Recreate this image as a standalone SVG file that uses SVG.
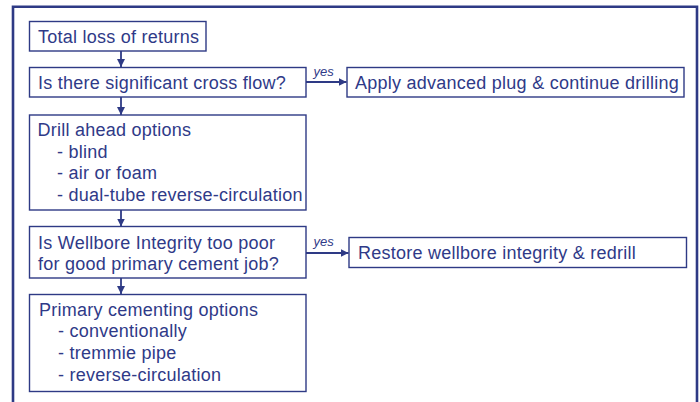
<svg xmlns="http://www.w3.org/2000/svg" width="700" height="402" viewBox="0 0 700 402">
<defs>
<style>
.box{fill:#fff;stroke:#2e3a85;stroke-width:1.4}
.t{font-family:"Liberation Sans",Arial,sans-serif;font-size:18px;letter-spacing:0.25px;fill:#2f3a88}
.y{font-family:"Liberation Sans",Arial,sans-serif;font-size:13px;font-style:italic;fill:#2f3a88}
.c{stroke:#2e3a85;stroke-width:1.8;fill:none}
</style>
<marker id="ah" viewBox="0 0 10 10" refX="10" refY="5" markerWidth="8" markerHeight="8" markerUnits="userSpaceOnUse" orient="auto">
<path d="M0,0 L10,5 L0,10 Z" fill="#2e3a85"/>
</marker>
</defs>
<rect width="700" height="402" fill="#fff"/>
<path d="M13,402 V6.8 H697 V402" fill="none" stroke="#2e3a85" stroke-width="2.6"/>
<g id="connectors">
<line class="c" x1="121" y1="51" x2="121" y2="67" marker-end="url(#ah)"/>
<line class="c" x1="121" y1="97" x2="121" y2="115" marker-end="url(#ah)"/>
<line class="c" x1="121" y1="210" x2="121" y2="226.5" marker-end="url(#ah)"/>
<line class="c" x1="121" y1="278" x2="121" y2="294" marker-end="url(#ah)"/>
<line class="c" x1="306" y1="82" x2="346.5" y2="82" marker-end="url(#ah)"/>
<text class="y" x="313.5" y="76">yes</text>
<line class="c" x1="306" y1="253" x2="348.5" y2="253" marker-end="url(#ah)"/>
<text class="y" x="313.5" y="246">yes</text>
</g>
<g id="n1">
<rect class="box" x="29.5" y="21.5" width="176.5" height="29.5"/>
<text class="t" x="38" y="43">Total loss of returns</text>
</g>
<g id="n2">
<rect class="box" x="29.5" y="67.5" width="276.5" height="29.5"/>
<text class="t" x="38" y="89">Is there significant cross flow?</text>
</g>
<g id="n3">
<rect class="box" x="347" y="67.5" width="337" height="29.5"/>
<text class="t" x="355" y="89">Apply advanced plug &amp; continue drilling</text>
</g>
<g id="n4">
<rect class="box" x="29.5" y="115" width="276.5" height="95"/>
<text class="t" x="37.5" y="136">Drill ahead options</text>
<text class="t" x="57" y="157.5">- blind</text>
<text class="t" x="57" y="179">- air or foam</text>
<text class="t" x="57" y="200.5">- dual-tube reverse-circulation</text>
</g>
<g id="n5">
<rect class="box" x="29.5" y="226.5" width="276.5" height="51.5"/>
<text class="t" x="38" y="248.5">Is Wellbore Integrity too poor</text>
<text class="t" x="38" y="270">for good primary cement job?</text>
</g>
<g id="n6">
<rect class="box" x="349" y="237.5" width="337.5" height="30"/>
<text class="t" x="358" y="258.5">Restore wellbore integrity &amp; redrill</text>
</g>
<g id="n7">
<rect class="box" x="29.5" y="294.5" width="276.5" height="97"/>
<text class="t" x="39" y="315.5">Primary cementing options</text>
<text class="t" x="58" y="337">- conventionally</text>
<text class="t" x="58" y="359">- tremmie pipe</text>
<text class="t" x="58" y="380.5">- reverse-circulation</text>
</g>
</svg>
